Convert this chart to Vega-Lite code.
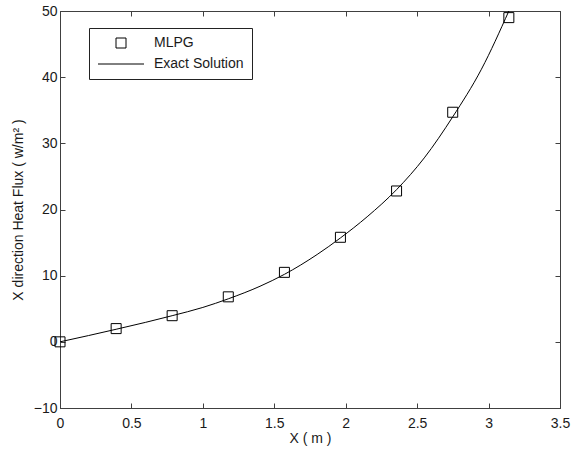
{
  "$schema": "https://vega.github.io/schema/vega-lite/v6.json",
  "width": 500,
  "height": 397,
  "autosize": {"type": "none"},
  "padding": {"left": 60, "top": 11, "right": 12, "bottom": 43},
  "background": "white",
  "config": {
    "font": "Liberation Sans",
    "view": {"stroke": "#404040", "strokeWidth": 1},
    "axis": {
      "grid": false,
      "domainColor": "#404040",
      "tickColor": "#404040",
      "labelColor": "#1a1a1a",
      "titleColor": "#1a1a1a",
      "labelFont": "Liberation Sans",
      "titleFont": "Liberation Sans",
      "labelFontSize": 14,
      "titleFontSize": 14,
      "titleFontWeight": "normal"
    }
  },
  "datasets": {
    "mlpg": [
      {"x": 0.0, "q": 0.0, "series": "MLPG"},
      {"x": 0.393, "q": 2.0, "series": "MLPG"},
      {"x": 0.785, "q": 3.95, "series": "MLPG"},
      {"x": 1.178, "q": 6.8, "series": "MLPG"},
      {"x": 1.571, "q": 10.5, "series": "MLPG"},
      {"x": 1.963, "q": 15.8, "series": "MLPG"},
      {"x": 2.356, "q": 22.8, "series": "MLPG"},
      {"x": 2.749, "q": 34.7, "series": "MLPG"},
      {"x": 3.142, "q": 49.0, "series": "MLPG"}
    ],
    "exact": [
      {"x": 0.0, "q": 0.0},
      {"x": 0.2, "q": 0.95},
      {"x": 0.393, "q": 1.9},
      {"x": 0.6, "q": 2.95},
      {"x": 0.785, "q": 3.95},
      {"x": 1.0, "q": 5.2},
      {"x": 1.178, "q": 6.5},
      {"x": 1.4, "q": 8.4},
      {"x": 1.571, "q": 10.2},
      {"x": 1.8, "q": 13.2},
      {"x": 1.963, "q": 15.7},
      {"x": 2.15, "q": 18.9},
      {"x": 2.356, "q": 23.0},
      {"x": 2.55, "q": 27.8},
      {"x": 2.749, "q": 34.0},
      {"x": 2.95, "q": 41.2},
      {"x": 3.142, "q": 50.0}
    ]
  },
  "layer": [
    {
      "data": {"name": "exact"},
      "mark": {"type": "line", "color": "black", "strokeWidth": 1, "interpolate": "monotone", "clip": true},
      "encoding": {
        "x": {
          "field": "x", "type": "quantitative",
          "scale": {"domain": [0, 3.5], "nice": false, "zero": false},
          "axis": {
            "title": "X ( m )",
            "values": [0, 0.5, 1, 1.5, 2, 2.5, 3, 3.5],
            "format": "~g",
            "tickSize": -5,
            "labelPadding": 13,
            "titlePadding": 1,
            "labelFlush": false
          }
        },
        "y": {
          "field": "q", "type": "quantitative",
          "scale": {"domain": [-10, 50], "nice": false, "zero": false},
          "axis": {
            "title": "X direction Heat Flux  ( w/m² )",
            "values": [-10, 0, 10, 20, 30, 40, 50],
            "format": "d",
            "tickSize": -5,
            "labelPadding": 8,
            "titlePadding": 8,
            "labelFlush": false
          }
        }
      }
    },
    {
      "data": {"name": "mlpg"},
      "mark": {"type": "point", "filled": false, "stroke": "black", "strokeWidth": 1, "opacity": 1, "size": 100},
      "encoding": {
        "x": {
          "field": "x", "type": "quantitative",
          "axis": {"orient": "top", "title": null, "labels": false, "values": [0, 0.5, 1, 1.5, 2, 2.5, 3, 3.5], "tickSize": -5}
        },
        "y": {
          "field": "q", "type": "quantitative",
          "axis": {"orient": "right", "title": null, "labels": false, "values": [-10, 0, 10, 20, 30, 40, 50], "tickSize": -5}
        },
        "shape": {
          "field": "series", "type": "nominal",
          "scale": {"domain": ["MLPG", "Exact Solution"], "range": ["M-1,-1H1V1H-1Z", "M-4.6,0H4.6"]},
          "legend": {
            "title": null,
            "orient": "none",
            "legendX": 29,
            "legendY": 17,
            "padding": 8,
            "strokeColor": "#222222",
            "fillColor": "white",
            "symbolSize": 100,
            "symbolStrokeColor": "black",
            "symbolFillColor": "transparent",
            "symbolStrokeWidth": 1,
            "symbolOffset": 17,
            "labelOffset": 26,
            "labelFontSize": 14,
            "labelFont": "Liberation Sans",
            "labelColor": "#1a1a1a",
            "rowPadding": 7
          }
        }
      }
    }
  ],
  "resolve": {"axis": {"x": "independent", "y": "independent"}}
}
